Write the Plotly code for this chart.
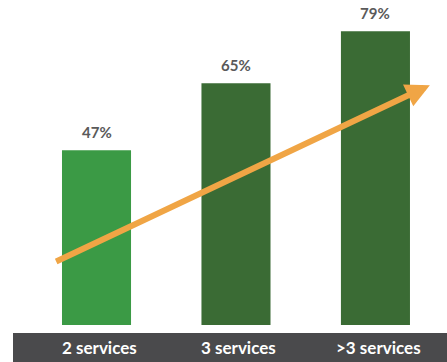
import plotly.graph_objects as go

categories = ["2 services", "3 services", ">3 services"]
values = [47, 65, 79]
bar_colors = ["#3b9a45", "#3a6b34", "#3a6b34"]
value_labels = ["47%", "65%", "79%"]

fig = go.Figure()
fig.add_trace(go.Bar(
    x=list(range(len(categories))), y=values,
    marker=dict(color=bar_colors, line=dict(width=0)),
    width=0.495, hoverinfo="skip",
))

annotations = []
for i, (v, t) in enumerate(zip(values, value_labels)):
    annotations.append(dict(x=i, y=v, xref="x", yref="y", text="<b>" + t + "</b>", showarrow=False,
                            yanchor="bottom", yshift=7,
                            font=dict(family="Lato", size=15, color="#5a5a5a")))
for i, c in enumerate(categories):
    annotations.append(dict(x=i, y=-0.0677, xref="x", yref="paper", text="<b>" + c + "</b>",
                            showarrow=False, yanchor="middle", xshift=3,
                            font=dict(family="Lato", size=17, color="#ffffff")))
# trend arrow
annotations.append(dict(x=2.39, y=64.5, xref="x", yref="y",
                        ax=-0.30, ay=16.9, axref="x", ayref="y",
                        text="", showarrow=True, arrowhead=2, arrowsize=0.8,
                        arrowwidth=6, arrowcolor="#f0a545", standoff=0, startstandoff=0))

fig.update_layout(
    width=447, height=362,
    margin=dict(l=0, r=0, t=0, b=37),
    paper_bgcolor="white", plot_bgcolor="white",
    showlegend=False,
    xaxis=dict(range=[-0.692, 2.513], visible=False, fixedrange=True),
    yaxis=dict(range=[0, 87.4], visible=False, fixedrange=True),
    annotations=annotations,
    shapes=[dict(type="rect", xref="paper", yref="paper", x0=13/447, x1=1,
                 y0=-0.1138, y1=-0.0246, fillcolor="#4a4a4c", line=dict(width=0), layer="below")],
)

fig.write_html("out.html")
